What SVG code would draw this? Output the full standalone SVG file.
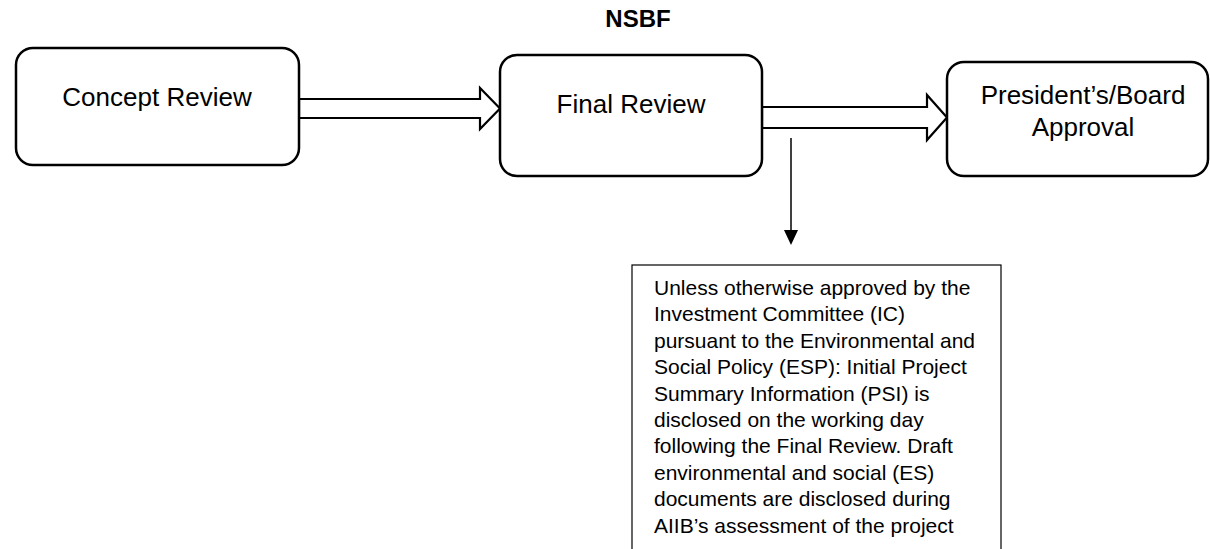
<svg xmlns="http://www.w3.org/2000/svg" width="1210" height="549" viewBox="0 0 1210 549">
<style>
.box{fill:#fff;stroke:#000;stroke-width:2.5}
.blk{fill:#fff;stroke:#000;stroke-width:2.2;stroke-linejoin:miter}
.lbl{font-family:"Liberation Sans",Arial,sans-serif;font-size:26px;fill:#000;text-anchor:middle}
.note{font-family:"Liberation Sans",Arial,sans-serif;font-size:21px;fill:#000}
.title{font-family:"Liberation Sans",Arial,sans-serif;font-size:24px;font-weight:bold;fill:#000;text-anchor:middle}
</style>
<rect width="1210" height="549" fill="#fff"/>
<text class="title" x="638" y="27">NSBF</text>
<g id="connectors">
<polygon class="blk" points="299,99 480,99 480,88 500,108.5 480,129 480,118 299,118"/>
<polygon class="blk" points="762,107 927,107 927,95 947,117.5 927,140 927,128 762,128"/>
<line x1="791" y1="138" x2="791" y2="232" stroke="#000" stroke-width="1.5"/>
<polygon points="784,230 798,230 791,245" fill="#000"/>
</g>
<g id="concept-review">
<rect class="box" x="16" y="48" width="283" height="117" rx="17"/>
<text class="lbl" x="157" y="106">Concept Review</text>
</g>
<g id="final-review">
<rect class="box" x="500" y="55" width="262" height="121" rx="17"/>
<text class="lbl" x="631" y="113">Final Review</text>
</g>
<g id="approval">
<rect class="box" x="947" y="62" width="261" height="114" rx="17"/>
<text class="lbl" x="1083" y="104">President’s/Board</text>
<text class="lbl" x="1083" y="136">Approval</text>
</g>
<g id="disclosure-note">
<rect x="632" y="265" width="369" height="300" fill="#fff" stroke="#000" stroke-width="1.2"/>
<text class="note" x="654" y="295">Unless otherwise approved by the</text>
<text class="note" x="654" y="321.4">Investment Committee (IC)</text>
<text class="note" x="654" y="347.8">pursuant to the Environmental and</text>
<text class="note" x="654" y="374.2">Social Policy (ESP): Initial Project</text>
<text class="note" x="654" y="400.6">Summary Information (PSI) is</text>
<text class="note" x="654" y="427">disclosed on the working day</text>
<text class="note" x="654" y="453.4">following the Final Review. Draft</text>
<text class="note" x="654" y="479.8">environmental and social (ES)</text>
<text class="note" x="654" y="506.2">documents are disclosed during</text>
<text class="note" x="654" y="532.6">AIIB’s assessment of the project</text>
</g>
</svg>
